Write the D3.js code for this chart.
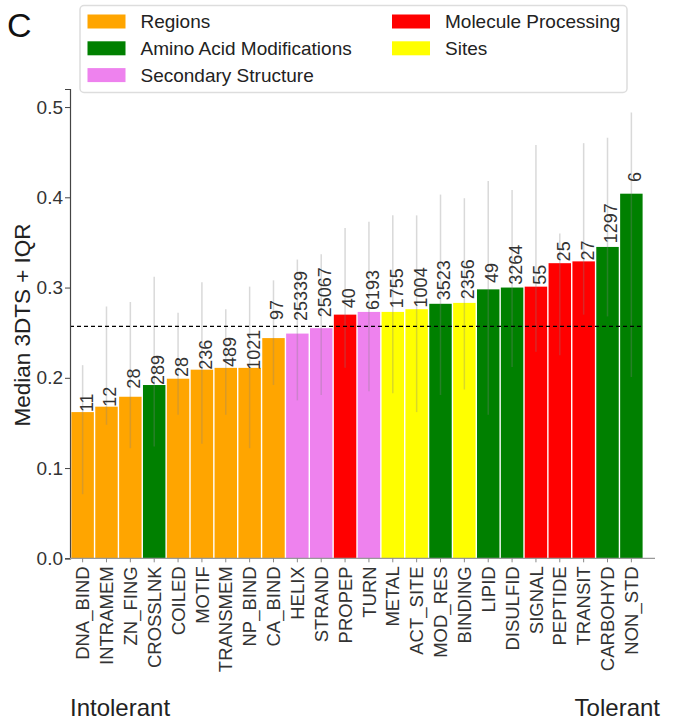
<!DOCTYPE html>
<html>
<head>
<meta charset="utf-8">
<script src="https://cdn.jsdelivr.net/npm/d3@7"></script>
<style>
  body { margin: 0; background: #fff; }
  svg { display: block; font-family: "Liberation Sans", Arial, sans-serif; }
</style>
</head>
<body>
<svg id="chart" width="680" height="721"></svg>
<script>
// categories, ordered from intolerant to tolerant
const features = ["DNA_BIND", "INTRAMEM", "ZN_FING", "CROSSLNK", "COILED", "MOTIF", "TRANSMEM", "NP_BIND",
  "CA_BIND", "HELIX", "STRAND", "PROPEP", "TURN", "METAL", "ACT_SITE", "MOD_RES", "BINDING", "LIPID",
  "DISULFID", "SIGNAL", "PEPTIDE", "TRANSIT", "CARBOHYD", "NON_STD"];
const groups = ["Regions", "Regions", "Regions", "Amino Acid Modifications", "Regions", "Regions", "Regions", "Regions",
  "Regions", "Secondary Structure", "Secondary Structure", "Molecule Processing", "Secondary Structure", "Sites", "Sites",
  "Amino Acid Modifications", "Sites", "Amino Acid Modifications", "Amino Acid Modifications", "Molecule Processing",
  "Molecule Processing", "Molecule Processing", "Amino Acid Modifications", "Amino Acid Modifications"];
const medians = [0.162, 0.168, 0.179, 0.192, 0.199, 0.209, 0.211, 0.211, 0.244, 0.249, 0.255, 0.270,
  0.273, 0.273, 0.276, 0.282, 0.283, 0.298, 0.300, 0.301, 0.327, 0.329, 0.345, 0.404];
const q1 = [0.071, 0.148, 0.122, 0.124, 0.159, 0.127, 0.159, 0.122, 0.192, 0.175, 0.181, 0.211,
  0.185, 0.183, 0.162, 0.181, 0.187, 0.159, 0.212, 0.229, 0.225, 0.270, 0.268, 0.201];
const q3 = [0.214, 0.279, 0.284, 0.312, 0.272, 0.306, 0.276, 0.301, 0.308, 0.331, 0.337, 0.366,
  0.373, 0.380, 0.380, 0.403, 0.399, 0.418, 0.408, 0.458, 0.360, 0.460, 0.466, 0.494];
const counts = [11, 12, 28, 289, 28, 236, 489, 1021, 97, 25339, 25067, 40, 6193, 1755, 1004, 3523, 2356,
  49, 3264, 55, 25, 27, 1297, 6];
// where each count label starts, in axis units
const labelAt = [0.162, 0.168, 0.188, 0.192, 0.201, 0.209, 0.212, 0.209, 0.264, 0.263, 0.267, 0.277,
  0.275, 0.277, 0.278, 0.286, 0.287, 0.305, 0.303, 0.303, 0.329, 0.330, 0.349, 0.417];
const overallMedian = 0.257;
const yTicks = [0, 0.1, 0.2, 0.3, 0.4, 0.5];
const legendCol1 = ["Regions", "Amino Acid Modifications", "Secondary Structure"];
const legendCol2 = ["Molecule Processing", "Sites"];

const colors = {
  "Regions": "#FFA500",
  "Amino Acid Modifications": "#008000",
  "Secondary Structure": "#EE82EE",
  "Molecule Processing": "#FF0000",
  "Sites": "#FFFF00"
};

const rows = features.map((f, i) => ({
  name: f, group: groups[i], median: medians[i], lo: q1[i], hi: q3[i], n: counts[i], lab: labelAt[i]
}));

const svg = d3.select('#chart');
const x = d3.scaleBand().domain(features).range([70.7, 643.3]).padding(0);
const y = d3.scaleLinear().domain([0, 0.52]).range([558.3, 89]);

// bars
svg.append('g').selectAll('rect').data(rows).join('rect')
  .attr('x', d => x(d.name) + 0.7)
  .attr('width', x.bandwidth() - 1.4)
  .attr('y', d => y(d.median))
  .attr('height', d => y(0) - y(d.median))
  .attr('fill', d => colors[d.group]);

// IQR lines
svg.append('g').selectAll('line').data(rows).join('line')
  .attr('x1', d => x(d.name) + x.bandwidth() / 2)
  .attr('x2', d => x(d.name) + x.bandwidth() / 2)
  .attr('y1', d => y(d.lo))
  .attr('y2', d => y(d.hi))
  .attr('stroke', '#808080')
  .attr('stroke-opacity', 0.3)
  .attr('stroke-width', 1.5);

// overall median
svg.append('line')
  .attr('x1', 70).attr('x2', 643.3)
  .attr('y1', y(overallMedian)).attr('y2', y(overallMedian))
  .attr('stroke', '#000').attr('stroke-width', 1.3)
  .attr('stroke-dasharray', '4,3');

// count labels
svg.append('g').selectAll('text').data(rows).join('text')
  .attr('transform', d => `translate(${x(d.name) + x.bandwidth() / 2 + 3.5},${y(d.lab)}) rotate(-90)`)
  .attr('dy', '0.36em')
  .attr('font-size', 18)
  .attr('fill', '#333')
  .text(d => d.n);

// y axis
const yAxis = svg.append('g')
  .attr('transform', 'translate(70,0)')
  .call(d3.axisLeft(y).tickValues(yTicks).tickFormat(d3.format('.1f')).tickSize(5).tickPadding(2));
yAxis.select('.domain').attr('stroke', '#444').attr('stroke-width', 1.2);
yAxis.selectAll('.tick line').attr('stroke', '#444');
yAxis.selectAll('.tick text').attr('font-size', 19).attr('fill', '#333').attr('font-family', null);

// x axis
const xAxis = svg.append('g')
  .attr('transform', `translate(0,${y(0)})`)
  .call(d3.axisBottom(x).tickSize(4).tickSizeOuter(0));
xAxis.select('.domain').attr('d', 'M70,0H655').attr('stroke', '#999').attr('stroke-width', 1.2);
xAxis.selectAll('.tick line').attr('stroke', '#888');
xAxis.selectAll('.tick text')
  .attr('font-size', 18.5).attr('fill', '#333').attr('font-family', null)
  .attr('text-anchor', 'end')
  .attr('transform', 'translate(0,8) rotate(-90)')
  .attr('x', 0).attr('y', 0).attr('dy', '0.36em');

// titles
svg.append('text')
  .attr('transform', 'translate(22,325) rotate(-90)')
  .attr('text-anchor', 'middle').attr('dy', '0.36em')
  .attr('font-size', 22.5).attr('fill', '#222')
  .text('Median 3DTS + IQR');
svg.append('text').attr('x', 70).attr('y', 716)
  .attr('font-size', 24).attr('fill', '#222').text('Intolerant');
svg.append('text').attr('x', 660).attr('y', 716).attr('text-anchor', 'end')
  .attr('font-size', 24).attr('fill', '#222').text('Tolerant');
svg.append('text').attr('x', 7).attr('y', 37)
  .attr('font-size', 34).attr('fill', '#111').text('C');

// legend
const legend = svg.append('g');
legend.append('rect')
  .attr('x', 80).attr('y', 5.5).attr('width', 547).attr('height', 87).attr('rx', 4)
  .attr('fill', '#fff').attr('stroke', '#ddd').attr('stroke-width', 1.5);
function drawLegendColumn(items, left) {
  items.forEach((name, i) => {
    const cy = 21.5 + i * 26.8;
    legend.append('rect')
      .attr('x', left).attr('y', cy - 7).attr('width', 38).attr('height', 14)
      .attr('fill', colors[name]);
    legend.append('text')
      .attr('x', left + 53).attr('y', cy).attr('dy', '0.36em')
      .attr('font-size', 19).attr('fill', '#222')
      .text(name);
  });
}
drawLegendColumn(legendCol1, 87.5);
drawLegendColumn(legendCol2, 392);
</script>
</body>
</html>
